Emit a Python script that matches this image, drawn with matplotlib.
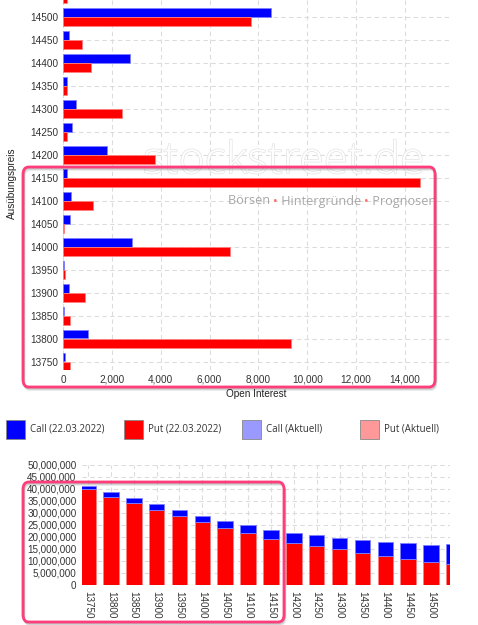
import matplotlib
matplotlib.use("Agg")
import matplotlib.pyplot as plt
from matplotlib.patches import FancyBboxPatch, Rectangle
import matplotlib.patheffects as pe
from matplotlib.ticker import FuncFormatter
import numpy as np

plt.rcParams['font.family'] = ['Liberation Sans', 'DejaVu Sans']

strikes = [13750, 13800, 13850, 13900, 13950, 14000, 14050, 14100, 14150,
           14200, 14250, 14300, 14350, 14400, 14450, 14500, 14550]
oi_call = [95, 1030, 25, 230, 40, 2830, 300, 330, 160,
           1800, 380, 530, 160, 2740, 250, 8500, 0]
oi_put = [300, 9330, 300, 880, 80, 6820, 55, 1210, 14600,
          3770, 180, 2400, 150, 1140, 780, 7700, 150]

# bottom chart, values in millions
pain_put = [39.7, 36.5, 34.0, 31.25, 28.6, 26.1, 23.75, 21.5, 19.2,
            17.6, 16.25, 14.9, 13.5, 12.2, 10.8, 9.7, 8.75]
pain_call = [1.55, 2.0, 2.0, 2.25, 2.5, 2.65, 3.05, 3.4, 3.7,
             4.1, 4.45, 4.8, 5.4, 5.8, 6.6, 7.0, 8.25]

legend_labels = ["Call (22.03.2022)", "Put (22.03.2022)", "Call (Aktuell)", "Put (Aktuell)"]
legend_colors = ["#0000ff", "#ff0000", "#9999ff", "#ff9999"]

W, H = 478, 625
fig = plt.figure(figsize=(W / 100, H / 100), dpi=100)


def fx(px):
    return px / W


def fy(py):
    return 1 - py / H


grid_kw = dict(color="#dcdcdc", linestyle=(0, (4, 3)), linewidth=0.8)
tick_col = "#333333"

# ---- top chart: open interest per strike
ax = fig.add_axes([fx(63), fy(370), fx(450) - fx(63), fy(0) - fy(370)])
y = np.arange(len(strikes))
ax.barh(y + 0.2, oi_call, height=0.36, color="#0000ff", edgecolor="#7f7fff", linewidth=0.6, zorder=3)
ax.barh(y - 0.2, oi_put, height=0.36, color="#ff0000", edgecolor="#ff8080", linewidth=0.6, zorder=3)
ax.set_ylim(-0.35, 16 - 6 / 23)
ax.set_xlim(0, 15840)
ax.set_yticks(y[:16])
ax.set_yticklabels([str(s) for s in strikes[:16]])
ax.set_xticks(np.arange(0, 14001, 2000))
ax.xaxis.set_major_formatter(FuncFormatter(lambda v, p: f"{int(v):,}"))
ax.tick_params(length=0, labelsize=7.2, labelcolor=tick_col, pad=3.5)
for s in ax.spines.values():
    s.set_visible(False)
ax.grid(True, **grid_kw)
ax.set_axisbelow(True)

fig.text(fx(256), fy(394), "Open Interest", ha="center", va="center", fontsize=7.2, color="#222222")
fig.text(fx(12), fy(183), "Ausübungspreis", ha="center", va="center", rotation=90, fontsize=7.2, color="#222222")

# watermark
wm = ax.text(fx(284), fy(162), "stockstreet.de", transform=fig.transFigure, ha="center", va="center",
             fontsize=32, family="Open Sans", fontweight="light", color="white", zorder=1)
wm.set_path_effects([pe.withStroke(linewidth=0.9, foreground="#e0e0e0")])
parts = [("Börsen ", "#a8a8a8"), ("•", "#ff6a6a"), (" Hintergründe ", "#a8a8a8"),
         ("•", "#ff6a6a"), (" Prognosen", "#a8a8a8")]
fig.canvas.draw()
r = fig.canvas.get_renderer()
xpos = fx(228)
for txt, c in parts:
    t = ax.text(xpos, fy(201), txt, transform=fig.transFigure, ha="left", va="center",
                fontsize=9.1, family="Open Sans", color=c, zorder=1)
    bb = t.get_window_extent(renderer=r)
    xpos += bb.width / W

# ---- legend
lx = [6, 124, 242, 360]
for x0, lab, col in zip(lx, legend_labels, legend_colors):
    fig.patches.append(Rectangle((fx(x0), fy(438.5)), fx(19), 19 / H, transform=fig.transFigure,
                                 facecolor=col, edgecolor="#888888", linewidth=0.6))
    fig.text(fx(x0 + 24), fy(429), lab, ha="left", va="center", fontsize=7.0,
             family="Open Sans", color="#333333")

# ---- bottom chart
ax2 = fig.add_axes([fx(82), fy(585), fx(450) - fx(82), fy(464.7) - fy(585)])
x = np.arange(len(strikes))
ax2.bar(x, pain_put, width=0.68, color="#ff0000", edgecolor="#ff8080", linewidth=0.6, zorder=3)
ax2.bar(x, pain_call, width=0.68, bottom=pain_put, color="#0000ff", edgecolor="#8080ff", linewidth=0.6, zorder=3)
ax2.set_xlim(-0.262, 15.83)
ax2.set_ylim(0, 50)
ax2.set_yticks(np.arange(0, 51, 5))
ax2.yaxis.set_major_formatter(FuncFormatter(lambda v, p: f"{int(round(v * 1e6)):,}"))
ax2.set_xticks(x[:16])
ax2.set_xticklabels([str(s) for s in strikes[:16]], rotation=-90)
ax2.tick_params(length=0, labelsize=7.1, labelcolor=tick_col, pad=4)
for s in ax2.spines.values():
    s.set_visible(False)
ax2.grid(True, **grid_kw)
ax2.set_axisbelow(True)

# ---- pink highlight frames
for (x0, y0, x1, y1) in [(23, 167, 435, 387), (23, 482, 284, 622)]:
    for k, a in [(3, 0.07), (2, 0.1), (1, 0.15)]:
        sh = FancyBboxPatch((fx(x0 + k * 0.5), fy(y1 + k)), fx(x1 - x0), (y1 - y0) / H,
                            boxstyle="round,pad=0,rounding_size=0.012", transform=fig.transFigure,
                            facecolor="none", edgecolor="#000000", alpha=a, linewidth=1.5)
        fig.patches.append(sh)
    fr = FancyBboxPatch((fx(x0), fy(y1)), fx(x1 - x0), (y1 - y0) / H,
                        boxstyle="round,pad=0,rounding_size=0.012", transform=fig.transFigure,
                        facecolor="none", edgecolor="#ff3d7a", linewidth=2.0)
    fig.patches.append(fr)

fig.savefig("out.png", dpi=100)
